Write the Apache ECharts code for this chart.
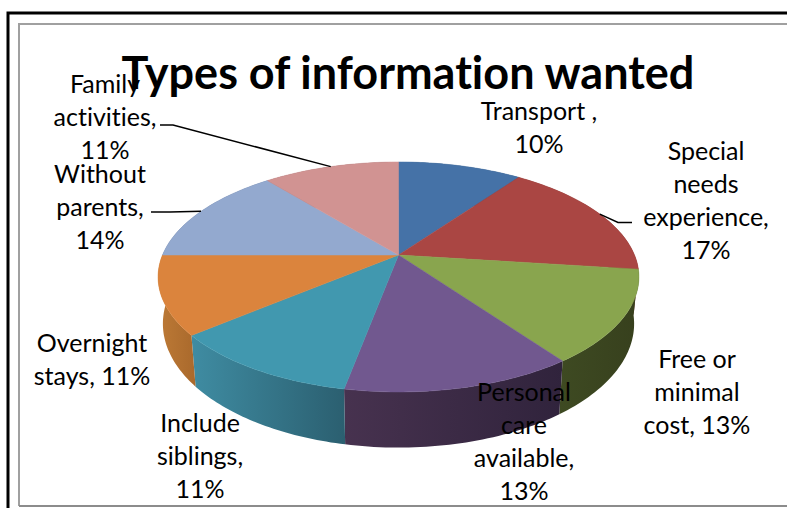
<!DOCTYPE html>
<html><head><meta charset="utf-8">
<style>html,body{margin:0;padding:0;background:#fff}#c{width:787px;height:508px}#c text{font-variant-ligatures:none;font-feature-settings:"liga" 0}</style>
<script src="https://cdn.jsdelivr.net/npm/echarts@6/dist/echarts.min.js"></script>
</head><body><div id="c"></div>
<script>
const titleText = 'Types of information wanted';
const categories = ['Transport ,\n','Special\nneeds\nexperience,\n','Free or\nminimal\ncost, ','Personal\ncare\navailable,\n','Include\nsiblings,\n','Overnight\nstays, ','Without\nparents,\n','Family\nactivities,\n'];
const values = [10,17,13,13,11,11,14,11];

const topColors = ['#4572A7','#AA4643','#89A54E','#71588F','#4198AF','#DB843D','#93A9CF','#D19392'];
const sideColors = [['#2f4d72','#2f4d72'],['#6b2c2a','#6b2c2a'],['#3e4a22','#37401d'],['#47324f','#30233c'],['#3f8ca2','#2b5f70'],['#bd7a36','#a9692c'],['#5f6f8a','#5f6f8a'],['#8a6160','#8a6160']];
const labelAnchors = [[539,126],[706,199],[697,391],[524,440],[200,455],[92,358],[100,206],[105,116]];
const leaderStarts = {1:[[632,222.5],[618,222.5]],6:[[151,212],[170,212]],7:[[160,125],[173,125]]};

const geom = {cx:398.5,cy:255,rx:236,ry:110.8,k:0.191,depth:45,lowerScale:0.98};
const total = values.reduce((a,b)=>a+b,0);
const starts = []; values.reduce((a,v,i)=>(starts[i]=a,a+v),0);

function project(frac, lower){
  const t = frac*2*Math.PI, u=Math.sin(t), v=Math.cos(t), w=1+geom.k*v;
  const s = lower?geom.lowerScale:1;
  return [geom.cx+geom.rx*u/w*s, geom.cy-geom.ry*v/w+(lower?geom.depth/w:0)];
}
function arc(i, lower){
  const a=starts[i]/total, b=(starts[i]+values[i])/total, pts=[], n=40;
  for(let j=0;j<=n;j++) pts.push(project(a+(b-a)*j/n, lower));
  return pts;
}
const ids = values.map((v,i)=>[i,v]);

const option = {
  animation:false,
  backgroundColor:'#fff',
  title:{text:titleText,left:403,top:44,textAlign:'center',textStyle:{fontFamily:'Lato',fontWeight:'bold',fontSize:45,color:'#000'}},
  graphic:[
    {type:'polyline',silent:true,z:-1,shape:{points:[[8,508],[8,13],[787,13]]},style:{stroke:'#000',lineWidth:3,fill:null}},
    {type:'polyline',silent:true,z:-1,shape:{points:[[19,506],[19,24],[787,24]]},style:{stroke:'#a0a0a0',lineWidth:2,fill:null}},
    {type:'line',silent:true,z:-1,shape:{x1:19,y1:506,x2:787,y2:506},style:{stroke:'#8c8c8c',lineWidth:2}}
  ],
  series:[
    {type:'custom',coordinateSystem:'none',z:1,silent:true,data:ids,
     renderItem:(p,api)=>{const i=api.value(0);
       const pts=arc(i,false).concat(arc(i,true).reverse());
       return {type:'polygon',shape:{points:pts},style:{fill:{type:'linear',x:0,y:0,x2:1,y2:0,colorStops:[{offset:0,color:sideColors[i][0]},{offset:1,color:sideColors[i][1]}]}}};
     }},
    {type:'custom',coordinateSystem:'none',z:2,silent:true,data:ids,
     renderItem:(p,api)=>{const i=api.value(0);
       const pts=[[geom.cx,geom.cy]].concat(arc(i,false));
       return {type:'polygon',shape:{points:pts},style:{fill:topColors[i],stroke:topColors[i],lineWidth:0.5}};
     }},
    {type:'custom',coordinateSystem:'none',z:3,silent:true,data:ids,
     renderItem:(p,api)=>{const i=api.value(0),v=api.value(1),children=[];
       if(leaderStarts[i]){
         const end=project((starts[i]+values[i]/2)/total,false);
         children.push({type:'polyline',shape:{points:leaderStarts[i].concat([end])},style:{stroke:'#000',lineWidth:1.5,fill:null}});
       }
       children.push({type:'text',x:labelAnchors[i][0],y:labelAnchors[i][1],style:{text:categories[i]+v+'%',fontFamily:'Lato',fontSize:25,lineHeight:33,fill:'#000',align:'center',verticalAlign:'middle'}});
       return {type:'group',children};
     }}
  ]
};
echarts.init(document.getElementById('c'),null,{renderer:'svg'}).setOption(option);
</script></body></html>
